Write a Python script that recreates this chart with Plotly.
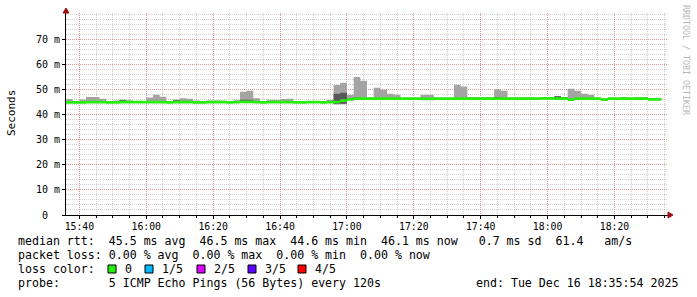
import plotly.graph_objects as go
from datetime import datetime, timedelta

# ---------------- data ----------------
START = "2025-12-16 15:36:00"
STEP_MIN = 2
AXIS_START = "2025-12-16 15:36:00"
AXIS_END = "2025-12-16 18:36:00"

median_ms = [
    44.9, 44.9, 44.9, 45.0, 45.0, 45.0, 44.9, 44.9, 45.0, 45.0,
    45.0, 45.0, 45.0, 45.0, 45.0, 44.9, 45.0, 45.0, 45.0, 44.9,
    44.9, 45.0, 45.0, 45.0, 44.9, 45.0, 45.1, 45.1, 45.0, 44.9,
    45.0, 45.0, 45.0, 45.0, 44.9, 44.9, 45.0, 45.0, 44.9, 45.0,
    45.0, 45.6, 46.1, 46.4, 46.4, 46.4, 46.4, 46.4, 46.4, 46.4,
    46.4, 46.4, 46.4, 46.3, 46.3, 46.4, 46.4, 46.4, 46.4, 46.4,
    46.4, 46.4, 46.4, 46.4, 46.4, 46.4, 46.4, 46.4, 46.4, 46.4,
    46.4, 46.5, 46.5, 46.4, 46.4, 46.0, 46.4, 46.4, 46.4, 46.4,
    46.0, 46.4, 46.4, 46.4, 46.4, 46.4, 46.4, 46.1, 46.1,
]
ping_max_ms = [
    46.2, 45.3, 46.0, 47.0, 47.0, 46.3, 45.2, 45.6, 45.9, 45.7,
    45.3, 45.3, 46.8, 47.9, 47.1, 45.3, 46.0, 46.5, 46.3, 45.6,
    45.2, 45.6, 45.6, 45.5, 45.2, 45.7, 49.1, 49.5, 46.5, 45.3,
    45.9, 45.9, 46.2, 46.3, 45.3, 45.2, 45.3, 45.2, 45.3, 45.8,
    51.8, 52.7, 47.9, 55.0, 53.5, 46.8, 50.7, 49.9, 48.3, 47.9,
    46.7, 46.7, 46.7, 47.9, 47.9, 46.7, 46.7, 46.7, 51.9, 51.2,
    47.0, 46.9, 46.9, 46.9, 50.1, 49.5, 46.8, 46.8, 46.9, 46.9,
    46.7, 46.9, 46.9, 47.4, 47.0, 50.3, 49.5, 48.3, 47.9, 46.7,
    46.5, 46.7, 46.7, 47.0, 46.7, 47.0, 47.0, 46.6, 46.6,
]
ping_q4_ms = [
    45.1, 45.1, 45.1, 45.2, 45.2, 45.2, 45.1, 45.1, 45.8, 45.2,
    45.2, 45.2, 45.2, 45.2, 45.2, 45.1, 45.7, 45.2, 45.2, 45.1,
    45.1, 45.2, 45.2, 45.2, 45.1, 45.2, 45.9, 45.9, 45.2, 45.1,
    45.2, 45.2, 45.2, 45.2, 45.1, 45.1, 45.2, 45.2, 45.1, 45.2,
    48.3, 48.7, 46.3, 46.8, 46.6, 46.6, 46.6, 46.6, 46.6, 46.6,
    46.6, 46.6, 46.6, 46.5, 46.5, 46.6, 46.6, 46.6, 46.6, 46.6,
    46.6, 46.6, 46.6, 46.6, 46.9, 46.6, 46.6, 46.6, 46.6, 46.6,
    46.6, 46.7, 46.7, 47.3, 46.9, 46.2, 46.6, 46.6, 46.6, 46.6,
    46.2, 46.6, 46.6, 46.6, 46.6, 46.6, 46.6, 46.3, 46.3,
]
ping_q2_ms = [
    44.7, 44.7, 44.7, 44.8, 44.8, 44.8, 44.7, 44.7, 44.8, 44.8,
    44.8, 44.8, 44.8, 44.8, 44.8, 44.7, 44.8, 44.8, 44.8, 44.7,
    44.7, 44.8, 44.8, 44.8, 44.7, 44.8, 44.9, 44.9, 44.8, 44.7,
    44.8, 44.8, 44.8, 44.8, 44.7, 44.7, 44.8, 44.8, 44.7, 44.8,
    44.2, 44.3, 45.9, 46.2, 46.2, 46.2, 46.2, 46.2, 46.2, 46.2,
    46.2, 46.2, 46.2, 46.1, 46.1, 46.2, 46.2, 46.2, 46.2, 46.2,
    46.2, 46.2, 46.2, 46.2, 46.2, 46.2, 46.2, 46.2, 46.2, 46.2,
    46.2, 46.3, 46.3, 46.2, 46.2, 45.8, 46.2, 46.2, 46.2, 46.2,
    45.8, 46.2, 46.2, 46.2, 46.2, 46.2, 46.2, 45.9, 45.9,
]
ping_min_ms = [
    44.5, 44.5, 44.5, 44.6, 44.6, 44.6, 44.5, 44.5, 44.6, 44.6,
    44.6, 44.6, 44.6, 44.6, 44.6, 44.5, 44.6, 44.6, 44.6, 44.5,
    44.5, 44.6, 44.6, 44.6, 44.5, 44.6, 44.7, 44.7, 44.6, 44.5,
    44.6, 44.6, 44.6, 44.6, 44.5, 44.5, 44.6, 44.6, 44.5, 44.6,
    44.0, 44.1, 45.7, 46.0, 46.0, 46.0, 46.0, 46.0, 46.0, 46.0,
    46.0, 46.0, 46.0, 45.9, 45.9, 46.0, 46.0, 46.0, 46.0, 46.0,
    46.0, 46.0, 46.0, 46.0, 46.0, 46.0, 46.0, 46.0, 46.0, 46.0,
    46.0, 46.1, 46.1, 46.0, 46.0, 45.6, 46.0, 46.0, 46.0, 46.0,
    45.6, 46.0, 46.0, 46.0, 46.0, 46.0, 46.0, 45.7, 45.7,
]

x_tick_times = ["15:40", "16:00", "16:20", "16:40", "17:00", "17:20", "17:40", "18:00", "18:20"]
y_tick_vals = [0, 10, 20, 30, 40, 50, 60, 70]
y_tick_text = ["0\u00a0\u00a0", "10 m", "20 m", "30 m", "40 m", "50 m", "60 m", "70 m"]

loss_labels = ["0", "1/5", "2/5", "3/5", "4/5"]
loss_colors = ["#26ee10", "#00b8ff", "#d800ff", "#5e00ff", "#ff0000"]

legend_line1 = "median rtt:  45.5 ms avg  46.5 ms max  44.6 ms min  46.1 ms now   0.7 ms sd  61.4   am/s"
legend_line2 = "packet loss: 0.00 % avg  0.00 % max  0.00 % min  0.00 % now"
legend_line3 = "loss color:"
legend_line4 = "probe:       5 ICMP Echo Pings (56 Bytes) every 120s"
end_text = "end: Tue Dec 16 18:35:54 2025"
watermark = "RRDTOOL / TOBI OETIKER"

# ---------------- figure ----------------
W, H = 697, 297
ML, MR, MT, MB = 66, 29, 13, 82
PW, PH = W - ML - MR, H - MT - MB

def px(x):
    return (x - ML) / PW

def py(y):
    return (H - MB - y) / PH

t0 = datetime.fromisoformat(START)
n = len(median_ms)
xs = [t0 + timedelta(minutes=STEP_MIN * i) for i in range(n + 1)]

def ext(v):
    return list(v) + [v[-1]]

MONO = "DejaVu Sans Mono"
fig = go.Figure()

def band(lo, hi, color):
    fig.add_trace(go.Scatter(x=xs, y=ext(lo), mode="lines", line=dict(width=0, shape="hv"),
                             hoverinfo="skip", showlegend=False))
    fig.add_trace(go.Scatter(x=xs, y=ext(hi), mode="lines", line=dict(width=0, shape="hv"),
                             fill="tonexty", fillcolor=color, hoverinfo="skip", showlegend=False))

band(ping_min_ms, ping_max_ms, "#a4a4a4")
band(ping_q2_ms, ping_q4_ms, "#585858")
half = 0.55
band([m - half for m in median_ms], [m + half for m in median_ms], loss_colors[0])

grid_minor = "rgba(150,150,150,0.45)"
grid_major = "rgba(230,90,90,0.5)"

fig.update_layout(
    width=W, height=H, autosize=False,
    margin=dict(l=ML, r=MR, t=MT, b=MB, pad=0),
    paper_bgcolor="white", plot_bgcolor="white",
    font=dict(family=MONO, size=10, color="#000000"),
    xaxis=dict(
        type="date", range=[AXIS_START, AXIS_END],
        tickvals=["2025-12-16 " + t + ":00" for t in x_tick_times], ticktext=x_tick_times,
        showgrid=True, gridcolor=grid_major, griddash="1px,1px", gridwidth=1,
        minor=dict(dtick=5 * 60 * 1000, tick0="2025-12-16 15:40:00", showgrid=True,
                   gridcolor=grid_minor, griddash="1px,1px", gridwidth=1,
                   ticks="outside", ticklen=2, tickcolor="#000"),
        ticks="outside", ticklen=3, tickcolor="#000",
        showline=True, linecolor="#000", linewidth=1,
        zeroline=False, tickfont=dict(family=MONO, size=9.8),
        ticklabelstandoff=-1,
    ),
    yaxis=dict(
        range=[0, 80.5], tickvals=y_tick_vals, ticktext=y_tick_text,
        showgrid=True, gridcolor=grid_major, griddash="1px,1px", gridwidth=1,
        minor=dict(dtick=2, tick0=0, showgrid=True, gridcolor=grid_minor,
                   griddash="1px,1px", gridwidth=1),
        ticks="outside", ticklen=3, tickcolor="#000",
        showline=True, linecolor="#000", linewidth=1,
        zeroline=False, tickfont=dict(family=MONO, size=10),
    ),
)

ARROW = "#a01010"
shapes = [
    dict(type="path", xref="paper", yref="paper", xsizemode="pixel", ysizemode="pixel",
         xanchor=0, yanchor=1, path="M -3,0 L 3,0 L 0,5 Z",
         fillcolor=ARROW, line=dict(color=ARROW, width=1)),
    dict(type="path", xref="paper", yref="paper", xsizemode="pixel", ysizemode="pixel",
         xanchor=1, yanchor=0, path="M 0,-3 L 0,3 L 5,0 Z",
         fillcolor=ARROW, line=dict(color=ARROW, width=1)),
]

sq_x = [108, 145, 197, 248, 298]
for c, x in zip(loss_colors, sq_x):
    shapes.append(dict(type="rect", xref="paper", yref="paper",
                       x0=px(x), x1=px(x + 8), y0=py(273), y1=py(265),
                       fillcolor=c, line=dict(color="#000", width=1)))
fig.update_layout(shapes=shapes)

def nb(s):
    return s.replace(" ", "\u00a0")

LEG = 11.6
ann = [
    dict(x=px(16), y=py(241), text=nb(legend_line1)),
    dict(x=px(16), y=py(255), text=nb(legend_line2)),
    dict(x=px(16), y=py(269), text=nb(legend_line3)),
    dict(x=px(16), y=py(283), text=nb(legend_line4)),
]
for lab, x in zip(loss_labels, sq_x):
    ann.append(dict(x=px(x + 15), y=py(269), text=lab))
for a in ann:
    a.update(xref="paper", yref="paper", xanchor="left", yanchor="middle",
             showarrow=False, font=dict(family=MONO, size=LEG, color="#000"))
    fig.add_annotation(**a)

fig.add_annotation(x=px(680), y=py(283), text=nb(end_text), xref="paper", yref="paper",
                   xanchor="right", yanchor="middle", showarrow=False,
                   font=dict(family=MONO, size=LEG, color="#000"))
fig.add_annotation(x=px(11), y=py(113), text="Seconds", textangle=-90, xref="paper", yref="paper",
                   xanchor="center", yanchor="middle", showarrow=False,
                   font=dict(family=MONO, size=11, color="#000"))
fig.add_annotation(x=px(686), y=py(60), text=nb(watermark), textangle=90, xref="paper", yref="paper",
                   xanchor="center", yanchor="middle", showarrow=False,
                   font=dict(family=MONO, size=8.3, color="#b8b8b8"))

fig.write_html("out.html")
